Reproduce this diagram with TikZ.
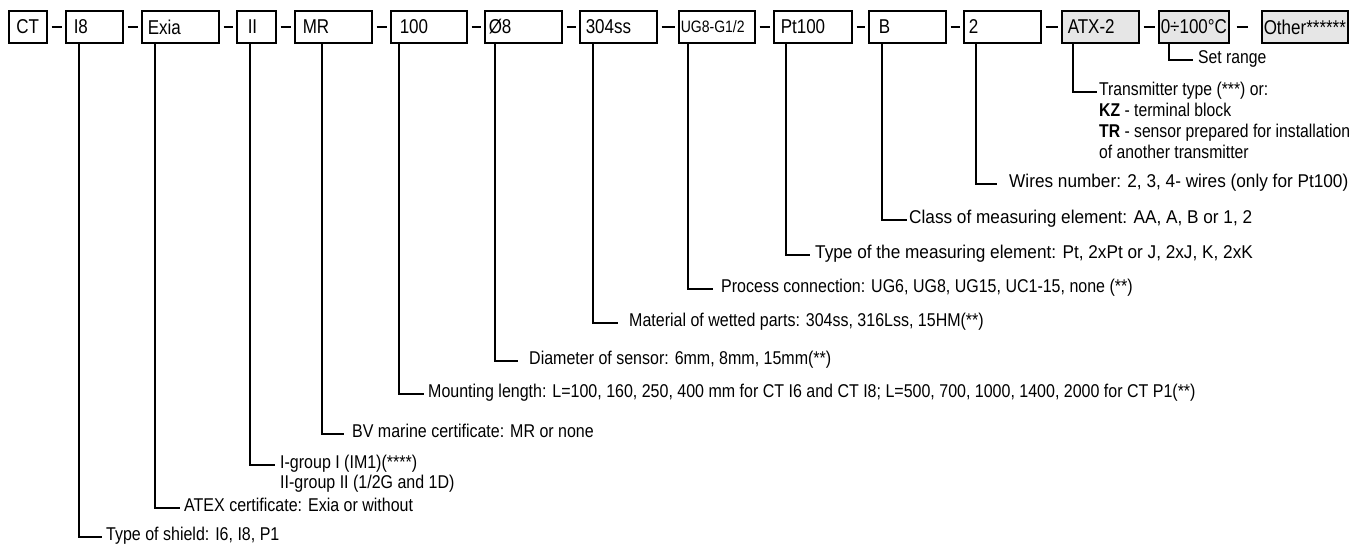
\documentclass[tikz,border=0pt]{standalone}
\usepackage{fontspec}
\setmainfont{Liberation Sans}
\newfontfamily\boxfont{Liberation Sans}[FakeStretch=0.85]
\newfontfamily\lblfont{Liberation Sans}[FakeStretch=0.865]
\newfontfamily\lblfontS{Liberation Sans}[FakeStretch=0.85]
\newfontfamily\lblfontL{Liberation Sans}[FakeStretch=0.93]
\definecolor{boxgray}{RGB}{230,230,230}
\begin{document}
\begin{tikzpicture}[x=1pt,y=-1pt,
  box/.style={draw, line width=1.5pt, minimum height=32pt, inner ysep=0pt, anchor=west, align=left, font=\boxfont\fontsize{20}{22}\selectfont},
  gbox/.style={box, fill=boxgray},
  conn/.style={line width=1.3pt},
  boxlink/.style={line width=1.3pt, shorten <=4pt, shorten >=3pt},
  lbl/.style={anchor=west, inner sep=0pt, text height=8pt, text depth=2pt, font=\lblfont\fontsize{18.5}{21}\selectfont},
  lblS/.style={lbl, font=\lblfontS\fontsize{18.5}{21}\selectfont},
  lblL/.style={lbl, font=\lblfontL\fontsize{18.5}{21}\selectfont}]
\useasboundingbox (0,0) rectangle (1356,544);
% boxes
\node[box, text width=30pt, inner xsep=4pt, align=center] (CT) at (8,27) {CT};
\node[box, text width=41pt, inner xsep=8pt] (I8) at (65,27) {I8};
\node[box, text width=65pt, inner xsep=6pt] (Exia) at (141,27) {Exia};
\node[box, text width=17pt, inner xsep=11pt] (II) at (236,27) {II};
\node[box, text width=61pt, inner xsep=8pt] (MR) at (294,27) {MR};
\node[box, text width=58pt, inner xsep=9pt] (L100) at (390,27) {100};
\node[box, text width=69pt, inner xsep=4pt] (D8) at (484,27) {Ø8};
\node[box, text width=65pt, inner xsep=6pt] (SS) at (579,27) {304ss};
\node[box, text width=72pt, inner xsep=2pt, font=\boxfont\fontsize{16.5}{18}\selectfont] (UG) at (678,27) {UG8-G1/2};
\node[box, text width=64pt, inner xsep=7pt] (Pt) at (773,27) {Pt100};
\node[box, text width=57pt, inner xsep=10pt] (B) at (868,27) {B};
\node[box, text width=67pt, inner xsep=5pt] (W2) at (963,27) {2};
\node[gbox, text width=65pt, inner xsep=6pt] (ATX) at (1061,27) {ATX-2};
\node[gbox, text width=66pt, inner xsep=2pt] (RNG) at (1158,27) {0÷100°C};
\node[gbox, text width=82pt, inner xsep=2pt] (OTH) at (1261,27) {Other******};
% links between boxes
\draw[boxlink] (CT) -- (I8);
\draw[boxlink] (I8) -- (Exia);
\draw[boxlink] (Exia) -- (II);
\draw[boxlink] (II) -- (MR);
\draw[boxlink] (MR) -- (L100);
\draw[boxlink] (L100) -- (D8);
\draw[boxlink] (D8) -- (SS);
\draw[boxlink] (SS) -- (UG);
\draw[boxlink] (UG) -- (Pt);
\draw[boxlink] (Pt) -- (B);
\draw[boxlink] (B) -- (W2);
\draw[boxlink] (W2) -- (ATX);
\draw[boxlink] (ATX) -- (RNG);
\draw[boxlink, shorten <=7pt, shorten >=13pt] (RNG) -- (OTH);
% labels
\node[lblS] (lSet) at (1198,60) {Set range};
\node[lblS] (lTxA) at (1099,92) {Transmitter type (***) or:};
\node[lblS] (lTxB) at (1099,113) {\textbf{KZ} - terminal block};
\node[lblS] (lTxC) at (1099,134) {\textbf{TR} - sensor prepared for installation};
\node[lblS] (lTxD) at (1099,155) {of another transmitter};
\node[lblL] (lWires) at (1009,184) {Wires number: 2, 3, 4- wires (only for Pt100)};
\node[lblL] (lClass) at (909,220) {Class of measuring element: AA, A, B or 1, 2};
\node[lblL] (lType) at (815,255) {Type of the measuring element: Pt, 2xPt or J, 2xJ, K, 2xK};
\node[lbl] (lProc) at (721,289) {Process connection: UG6, UG8, UG15, UC1-15, none (**)};
\node[lbl] (lMat) at (629,323) {Material of wetted parts: 304ss, 316Lss, 15HM(**)};
\node[lbl] (lDia) at (529,361) {Diameter of sensor: 6mm, 8mm, 15mm(**)};
\node[lbl] (lMount) at (428,394) {Mounting length: L=100, 160, 250, 400 mm for CT I6 and CT I8; L=500, 700, 1000, 1400, 2000 for CT P1(**)};
\node[lbl] (lBV) at (352,434) {BV marine certificate: MR or none};
\node[lbl] (lGrA) at (280,465) {I-group I (IM1)(****)};
\node[lbl] (lGrB) at (280,485) {II-group II (1/2G and 1D)};
\node[lbl] (lATEX) at (184,508) {ATEX certificate: Exia or without};
\node[lbl] (lShield) at (106,537) {Type of shield: I6, I8, P1};
% leader lines
\draw[conn] ([xshift=11pt]RNG.south west) |- ([xshift=-5pt]lSet.west);
\draw[conn] ([xshift=12pt]ATX.south west) |- ([xshift=-2pt]lTxA.west);
\draw[conn] ([xshift=13pt]W2.south west) |- ([xshift=-12pt]lWires.west);
\draw[conn] ([xshift=14pt]B.south west) |- ([xshift=-2pt]lClass.west);
\draw[conn] ([xshift=13pt]Pt.south west) |- ([xshift=-5pt]lType.west);
\draw[conn] ([xshift=10pt]UG.south west) |- ([xshift=-8pt]lProc.west);
\draw[conn] ([xshift=14pt]SS.south west) |- ([xshift=-11pt]lMat.west);
\draw[conn] ([xshift=11pt]D8.south west) |- ([xshift=-11pt]lDia.west);
\draw[conn] ([xshift=9pt]L100.south west) |- ([xshift=-4pt]lMount.west);
\draw[conn] ([xshift=28pt]MR.south west) |- ([xshift=-8pt]lBV.west);
\draw[conn] ([xshift=14pt]II.south west) |- ([xshift=-5pt]lGrA.west);
\draw[conn] ([xshift=14pt]Exia.south west) |- ([xshift=-4pt]lATEX.west);
\draw[conn] ([xshift=14pt]I8.south west) |- ([xshift=-4pt]lShield.west);
\end{tikzpicture}
\end{document}
